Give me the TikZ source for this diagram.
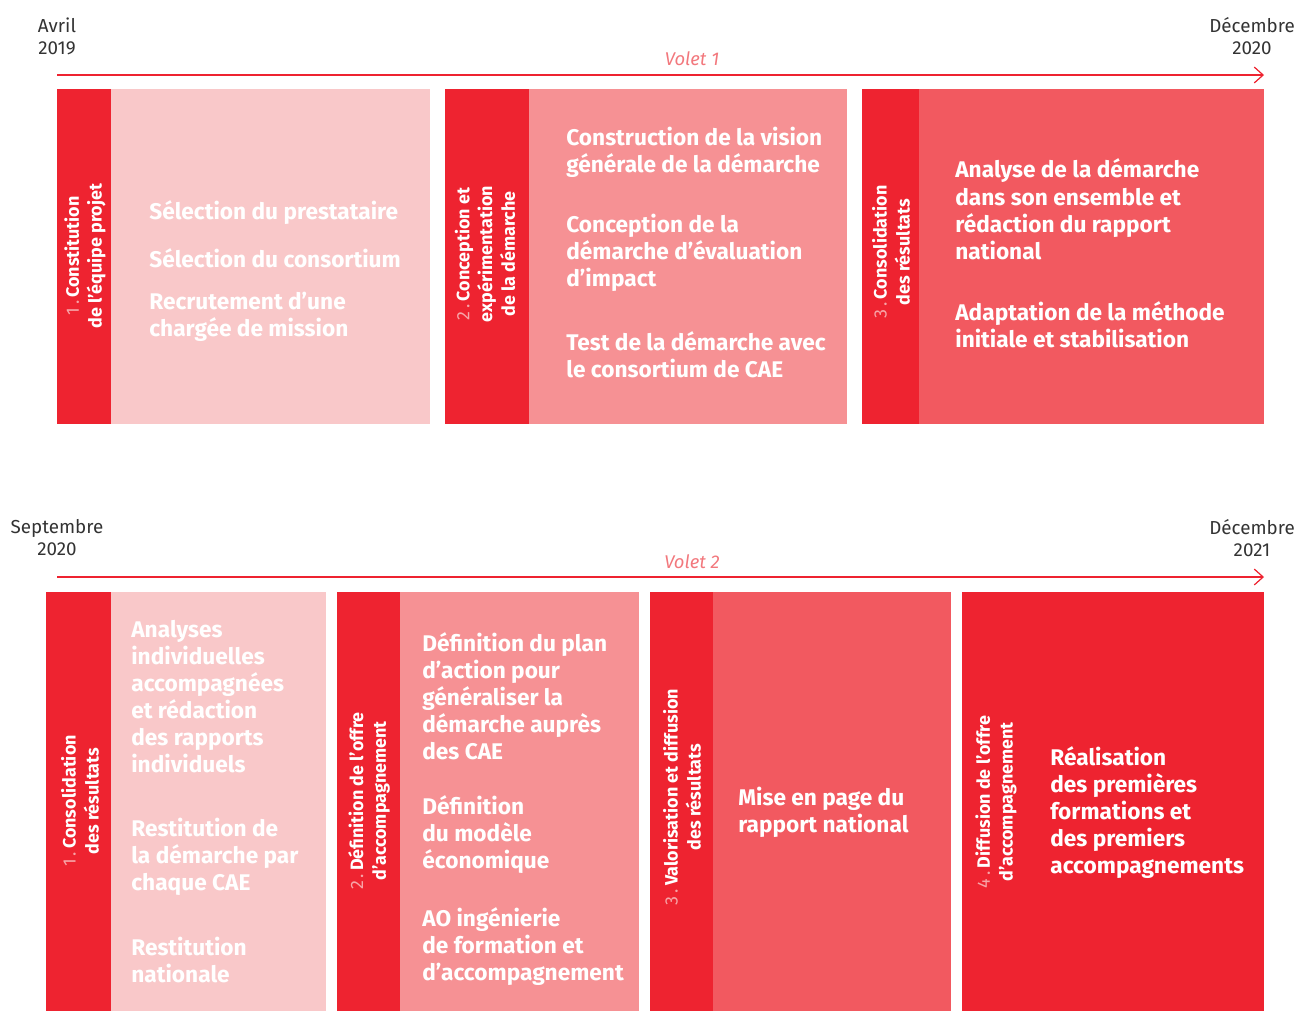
\documentclass[tikz,border=0pt]{standalone}
\usepackage{fontspec}
\setmainfont{Fira Sans}
\usetikzlibrary{arrows.meta}
\definecolor{caered}{RGB}{238,35,48}
\definecolor{palepink}{RGB}{249,200,201}
\definecolor{midpink}{RGB}{246,145,148}
\definecolor{salmon}{RGB}{242,89,96}
\definecolor{voletred}{RGB}{242,120,125}
\definecolor{numpink}{RGB}{247,165,168}
\definecolor{dategray}{RGB}{51,51,51}
\tikzset{
  txt/.style={anchor=west, align=left, text=white, inner sep=0pt, yshift=-1pt,
    font=\bfseries\fontsize{12.9}{15.4}\selectfont},
  lbl/.style={rotate=90, align=center, text=white, inner sep=0pt,
    font=\bfseries\fontsize{10.2}{13}\selectfont},
  datelbl/.style={align=center, text=dategray, inner sep=0pt,
    font=\fontsize{10.7}{12.5}\selectfont},
  volet/.style={text=voletred, inner sep=0pt, font=\itshape\fontsize{10.5}{12}\selectfont},
  timeline/.style={draw=caered, line width=0.7pt, -{Straight Barb[length=5pt,width=9pt]}},
}
\newcommand{\phnum}[1]{{\mdseries\color{numpink}#1\,.}\,}
\begin{document}
\begin{tikzpicture}[x=0.02cm, y=-0.02cm]
  \useasboundingbox (0,0) rectangle (1297,1012);

  % volet 1
  \node[datelbl] (start1) at (57,36) {Avril\\2019};
  \node[datelbl] (end1) at (1252,36) {Décembre\\2020};
  \coordinate (t1a) at (57,75);
  \coordinate (t1b) at (1264,75);
  \draw[timeline] (t1a) -- (t1b);
  \node[volet] (volet1) at (692,59) {Volet 1};

  \fill[palepink] (111,89) rectangle (430,424);
  \fill[caered] (57,89) rectangle (111,424);
  \node[lbl] (p11) at (85,256) {\phnum{1}Constitution\\de l’équipe projet};
  \node[txt] (p11a) at (149,211) {Sélection du prestataire};
  \node[txt] (p11b) at (149,256) {Sélection du consortium};
  \node[txt] (p11c) at (149,315.5) {Recrutement d’une\\chargée de mission};

  \fill[midpink] (529,89) rectangle (847,424);
  \fill[caered] (445,89) rectangle (529,424);
  \node[lbl] (p12) at (485,254) {\phnum{2}Conception et\\expérimentation\\de la démarche};
  \node[txt] (p12a) at (566,151) {Construction de la vision\\générale de la démarche};
  \node[txt] (p12b) at (566,251) {Conception de la\\démarche d’évaluation\\d’impact};
  \node[txt] (p12c) at (566,352.5) {Test de la démarche avec\\le consortium de CAE};

  \fill[salmon] (919,89) rectangle (1264,424);
  \fill[caered] (862,89) rectangle (919,424);
  \node[lbl] (p13) at (891,252) {\phnum{3}Consolidation\\des résultats};
  \node[txt] (p13a) at (955,207.5) {Analyse de la démarche\\dans son ensemble et\\rédaction du rapport\\national};
  \node[txt] (p13b) at (955,322.5) {Adaptation de la méthode\\initiale et stabilisation};

  % volet 2
  \node[datelbl] (start2) at (57,538) {Septembre\\2020};
  \node[datelbl] (end2) at (1252,538) {Décembre\\2021};
  \coordinate (t2a) at (57,577);
  \coordinate (t2b) at (1264,577);
  \draw[timeline] (t2a) -- (t2b);
  \node[volet] (volet2) at (692,562) {Volet 2};

  \fill[palepink] (111,592) rectangle (326,1011);
  \fill[caered] (46,592) rectangle (111,1011);
  \node[lbl] (p21) at (80,801) {\phnum{1}Consolidation\\des résultats};
  \node[txt] (p21a) at (131,695) {Analyses\\individuelles\\accompagnées\\et rédaction\\des rapports\\individuels};
  \node[txt] (p21b) at (131,855) {Restitution de\\la démarche par\\chaque CAE};
  \node[txt] (p21c) at (131,958.5) {Restitution\\nationale};

  \fill[midpink] (400,592) rectangle (639,1011);
  \fill[caered] (337,592) rectangle (400,1011);
  \node[lbl] (p22) at (369,801) {\phnum{2}Définition de l’offre\\d’accompagnement};
  \node[txt] (p22a) at (422,694.5) {Définition du plan\\d’action pour\\généraliser la\\démarche auprès\\des CAE};
  \node[txt] (p22b) at (422,833) {Définition\\du modèle\\économique};
  \node[txt] (p22c) at (422,944.5) {AO ingénierie\\de formation et\\d’accompagnement};

  \fill[salmon] (713,592) rectangle (951,1011);
  \fill[caered] (650,592) rectangle (713,1011);
  \node[lbl] (p23) at (682,797) {\phnum{3}Valorisation et diffusion\\des résultats};
  \node[txt] (p23a) at (738,810.5) {Mise en page du\\rapport national};

  \fill[caered] (962,592) rectangle (1264,1011);
  \node[lbl] (p24) at (996,802) {\phnum{4}Diffusion de l’offre\\d’accompagnement};
  \node[txt] (p24a) at (1050,810.5) {Réalisation\\des premières\\formations et\\des premiers\\accompagnements};
\end{tikzpicture}
\end{document}
